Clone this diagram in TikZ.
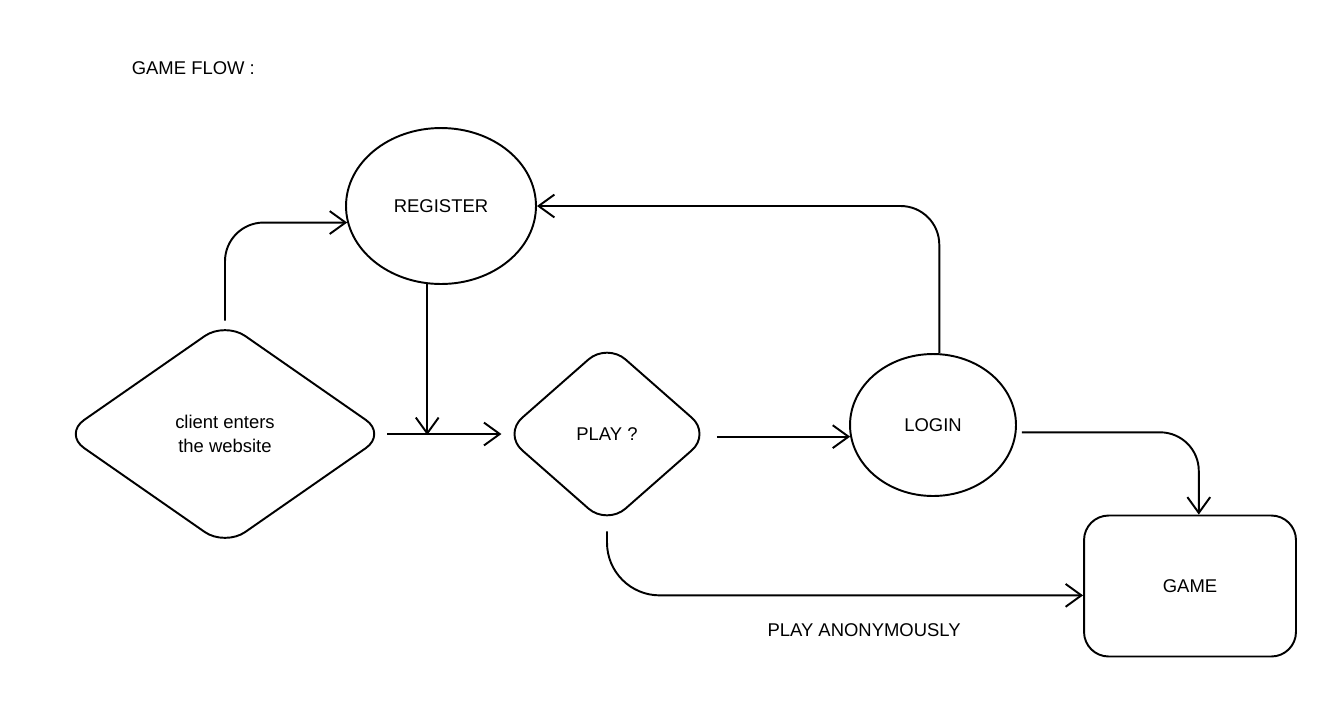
\documentclass[tikz,border=0pt]{standalone}
\usepackage{fontspec}
\setmainfont{Liberation Sans}
\usetikzlibrary{positioning,arrows.meta,shapes.geometric}

\begin{document}
\begin{tikzpicture}[x=0.02cm,y=-0.02cm, line width=1.1pt,
  every node/.style={font=\fontsize{10.5}{14}\selectfont, align=center},
  flow/.style={-{Straight Barb[length=9pt,width=13pt]}, rounded corners=22pt},
  choice/.style={draw, diamond, rounded corners=14pt, inner sep=0pt}]
  \useasboundingbox (0,0) rectangle (1334,708);
  \node[anchor=west] (title) at (125,68) {GAME FLOW :};
  \node[draw, ellipse, minimum width=3.8cm, minimum height=3.12cm] (reg) at (441,206) {REGISTER};
  \node[choice, minimum width=6.46cm, minimum height=4.5cm] (client) at (225,434) {client enters\\the website};
  \node[choice, minimum width=4.15cm, minimum height=3.65cm] (play) at (607,434) {PLAY ?};
  \node[draw, ellipse, minimum width=3.32cm, minimum height=2.84cm] (login) at (933,425) {LOGIN};
  \node[draw, rounded corners=14pt, minimum width=4.24cm, minimum height=2.82cm] (game) at (1190,586) {GAME};
  \coordinate (join) at (430,435);
  \draw[flow] (client.north) |- (reg.190);
  \draw[flow] (reg.260) -- (reg.260 |- join);
  \draw[flow, shorten >=0.5pt] (client.east) -- (play.west);
  \draw[flow, shorten <=3pt] (play.east |- login.188) -- (login.188);
  \draw[flow] (login.85) |- (reg.east);
  \draw[flow, shorten <=3pt] (login.355) -| ([xshift=5pt]game.north);
  \draw[flow, rounded corners=30pt, shorten <=3pt] (play.south) |- node[below=12pt, pos=0.77] {PLAY ANONYMOUSLY} (game.185);
\end{tikzpicture}
\end{document}
